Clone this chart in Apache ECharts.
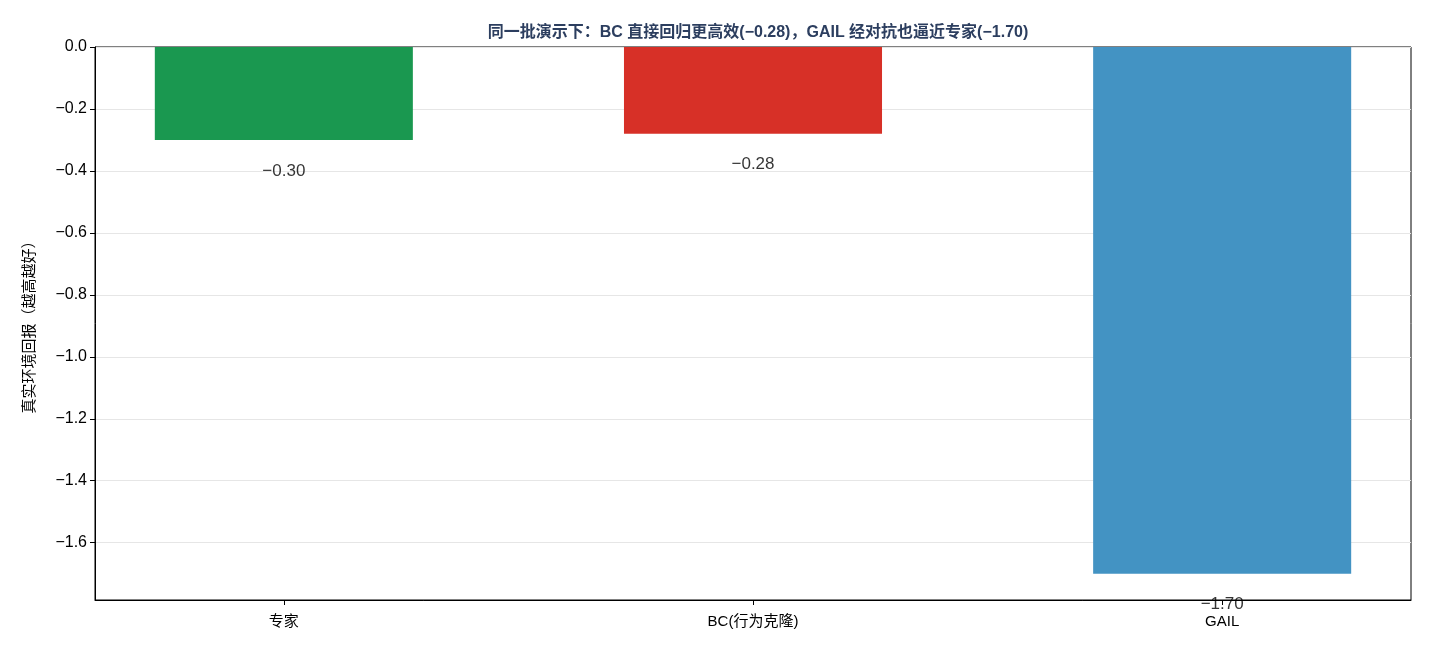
<!DOCTYPE html>
<html>
<head>
<meta charset="UTF-8">
<title>BC vs GAIL</title>
<script src="https://cdn.jsdelivr.net/npm/echarts@6/dist/echarts.min.js"></script>
<style>
    html, body { margin: 0; padding: 0; background: #fff; }
    #chart1 { width: 1430px; height: 650px; }
</style>
</head>
<body>
<div id="chart1"></div>
<script type="text/javascript">
var categories = ['专家', 'BC(行为克隆)', 'GAIL'];
var values = [-0.30, -0.28, -1.70];
var barColors = ['#1a9850', '#d73027', '#4393c3'];
var yTicks = [0, -0.2, -0.4, -0.6, -0.8, -1.0, -1.2, -1.4, -1.6];

var font = '"Liberation Sans", "Noto Sans CJK SC", sans-serif';
var minus = function (s) { return String(s).replace('-', '\u2212'); };

var chart1 = echarts.init(document.getElementById('chart1'));

// matplotlib 风格的坐标范围：柱宽 0.55，两端留 5% 边距
var xMin = -0.4025, xMax = 2.4025;
var gridLeft = 95, gridRight = 19;
var plotWidth = 1430 - gridLeft - gridRight;
var barPx = 0.55 * plotWidth / (xMax - xMin);

var option = {
    backgroundColor: '#ffffff',
    animation: false,
    title: {
        text: '同一批演示下：BC 直接回归更高效(\u22120.28)，GAIL 经对抗也逼近专家(\u22121.70)',
        left: 753,
        textAlign: 'center',
        top: 20,
        textStyle: { fontSize: 16, fontWeight: 'bold', color: '#2c3e5f', fontFamily: font }
    },
    grid: {
        left: gridLeft, right: gridRight, top: 47, bottom: 50,
        show: true, borderColor: '#000', borderWidth: 1
    },
    xAxis: {
        type: 'value',
        min: xMin,
        max: xMax,
        axisLine: { show: true, onZero: false, lineStyle: { color: '#000' } },
        axisTick: { show: true, customValues: [0, 1, 2], length: 5, lineStyle: { color: '#000' } },
        axisLabel: {
            customValues: [0, 1, 2],
            formatter: function (v) { return categories[Math.round(v)]; },
            color: '#000', fontSize: 15, fontFamily: font, margin: 14
        },
        splitLine: { show: false }
    },
    yAxis: {
        type: 'value',
        min: -1.785,
        max: 0,
        name: '真实环境回报（越高越好）',
        nameLocation: 'middle',
        nameGap: 58,
        nameTextStyle: { fontSize: 15, color: '#000', fontFamily: font },
        axisLine: { show: true, onZero: false, lineStyle: { color: '#000' } },
        axisTick: { show: true, customValues: yTicks, length: 5, lineStyle: { color: '#000' } },
        axisLabel: {
            customValues: yTicks,
            formatter: function (v) { return minus(Number(v).toFixed(1)); },
            color: '#000', fontSize: 16, fontFamily: font, margin: 8
        },
        splitLine: { show: true, lineStyle: { color: '#e6e6e6', width: 1 } }
    },
    series: [
        {
            type: 'bar',
            barWidth: barPx,
            data: values.map(function (v, i) {
                return { value: [i, v], itemStyle: { color: barColors[i] } };
            })
        },
        {
            type: 'scatter',
            symbolSize: 0,
            silent: true,
            clip: false,
            z: 5,
            data: values.map(function (v, i) { return [i, v - 0.1, v]; }),
            label: {
                show: true,
                position: 'inside',
                formatter: function (p) { return minus(p.value[2].toFixed(2)); },
                color: '#000', fontSize: 17, fontFamily: font
            }
        }
    ]
};
chart1.setOption(option);
</script>
</body>
</html>
